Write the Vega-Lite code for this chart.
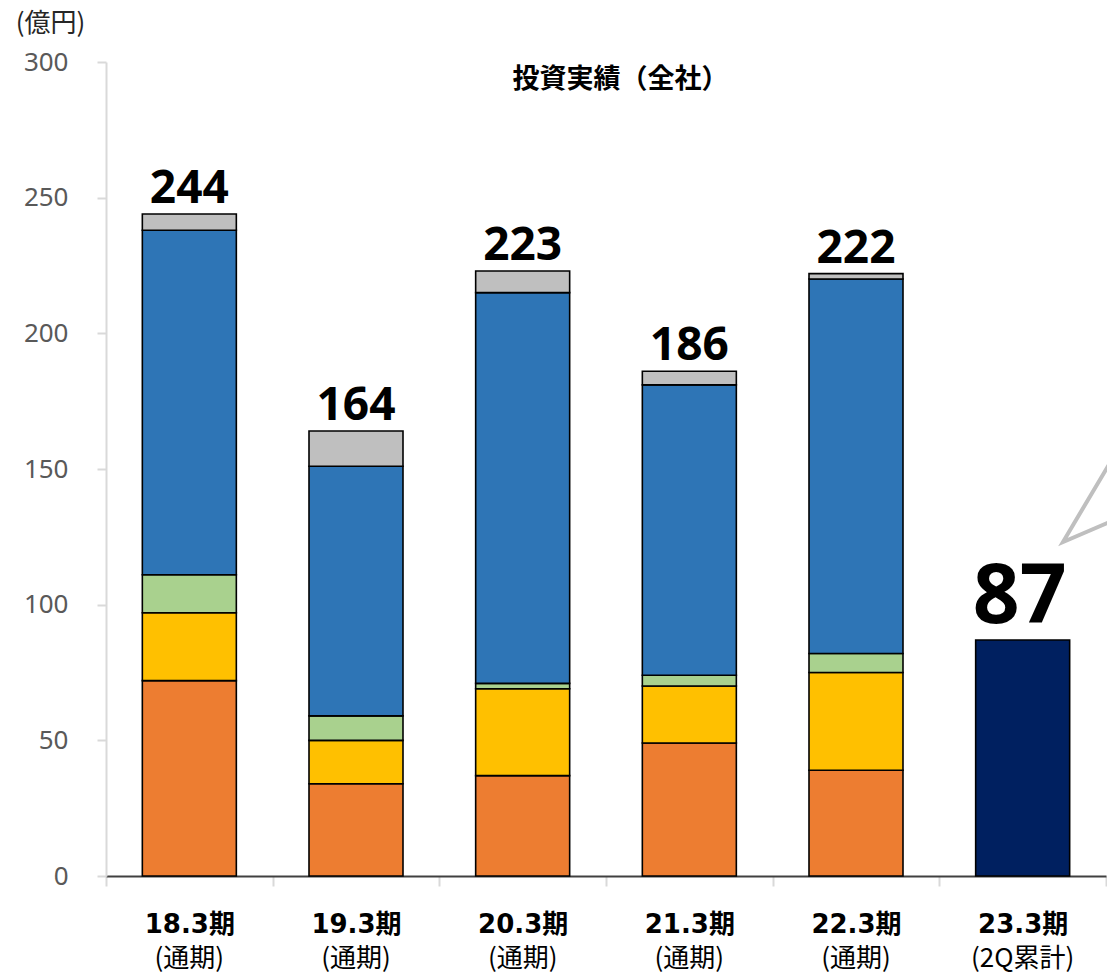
{
  "$schema": "https://vega.github.io/schema/vega-lite/v6.json",
  "width": 1000,
  "height": 814,
  "autosize": {"type": "none"},
  "padding": {"left": 106, "top": 62, "right": 1, "bottom": 101},
  "background": "white",
  "config": {"view": {"stroke": null}},
  "datasets": {
    "segments": [
      {"period": "18.3期", "segment": "A", "order": 1, "value": 72},
      {"period": "18.3期", "segment": "B", "order": 2, "value": 25},
      {"period": "18.3期", "segment": "C", "order": 3, "value": 14},
      {"period": "18.3期", "segment": "D", "order": 4, "value": 127},
      {"period": "18.3期", "segment": "E", "order": 5, "value": 6},
      {"period": "19.3期", "segment": "A", "order": 1, "value": 34},
      {"period": "19.3期", "segment": "B", "order": 2, "value": 16},
      {"period": "19.3期", "segment": "C", "order": 3, "value": 9},
      {"period": "19.3期", "segment": "D", "order": 4, "value": 92},
      {"period": "19.3期", "segment": "E", "order": 5, "value": 13},
      {"period": "20.3期", "segment": "A", "order": 1, "value": 37},
      {"period": "20.3期", "segment": "B", "order": 2, "value": 32},
      {"period": "20.3期", "segment": "C", "order": 3, "value": 2},
      {"period": "20.3期", "segment": "D", "order": 4, "value": 144},
      {"period": "20.3期", "segment": "E", "order": 5, "value": 8},
      {"period": "21.3期", "segment": "A", "order": 1, "value": 49},
      {"period": "21.3期", "segment": "B", "order": 2, "value": 21},
      {"period": "21.3期", "segment": "C", "order": 3, "value": 4},
      {"period": "21.3期", "segment": "D", "order": 4, "value": 107},
      {"period": "21.3期", "segment": "E", "order": 5, "value": 5},
      {"period": "22.3期", "segment": "A", "order": 1, "value": 39},
      {"period": "22.3期", "segment": "B", "order": 2, "value": 36},
      {"period": "22.3期", "segment": "C", "order": 3, "value": 7},
      {"period": "22.3期", "segment": "D", "order": 4, "value": 138},
      {"period": "22.3期", "segment": "E", "order": 5, "value": 2},
      {"period": "23.3期", "segment": "F", "order": 1, "value": 87}
    ],
    "totals": [
      {"period": "18.3期", "sub": "(通期)", "total": 244},
      {"period": "19.3期", "sub": "(通期)", "total": 164},
      {"period": "20.3期", "sub": "(通期)", "total": 223},
      {"period": "21.3期", "sub": "(通期)", "total": 186},
      {"period": "22.3期", "sub": "(通期)", "total": 222},
      {"period": "23.3期", "sub": "(2Q累計)", "total": 87}
    ],
    "callout": [
      {"pos": 6.05, "value": 155.0, "order": 1},
      {"pos": 5.742, "value": 123.1, "order": 2},
      {"pos": 6.05, "value": 131.2, "order": 3}
    ]
  },
  "layer": [
    {
      "encoding": {
        "x": {
          "field": "period",
          "type": "nominal",
          "sort": ["18.3期", "19.3期", "20.3期", "21.3期", "22.3期", "23.3期"],
          "scale": {"paddingInner": 0, "paddingOuter": 0},
          "axis": {
            "title": null,
            "labelAngle": 0,
            "labelFont": "DejaVu Sans, Noto Sans CJK JP",
            "labelFontWeight": "bold",
            "labelFontSize": 26,
            "labelColor": "#000000",
            "labelPadding": 46,
            "labelBaseline": "alphabetic",
            "tickBand": "extent",
            "tickSize": 10,
            "tickColor": "#d9d9d9",
            "tickWidth": 2,
            "domainColor": "#404040",
            "domainWidth": 2,
            "grid": false
          }
        }
      },
      "layer": [
        {
          "data": {"name": "segments"},
          "mark": {"type": "bar", "stroke": "#000000", "strokeWidth": 1.6, "width": {"band": 0.564}},
          "encoding": {
            "y": {
              "field": "value",
              "type": "quantitative",
              "stack": "zero",
              "scale": {"domain": [0, 300], "nice": false},
              "axis": {
                "title": "(億円)",
                "titleAngle": 0,
                "titleX": -56,
                "titleY": -39,
                "titleAlign": "center",
                "titleBaseline": "middle",
                "titleFont": "Noto Sans CJK JP",
                "titleFontSize": 26,
                "titleFontWeight": "normal",
                "titleColor": "#262626",
                "values": [0, 50, 100, 150, 200, 250, 300],
                "labelFont": "Noto Sans",
                "labelFontSize": 26,
                "labelColor": "#595959",
                "labelPadding": 29,
                "tickSize": 9,
                "tickColor": "#d9d9d9",
                "tickWidth": 2,
                "domainColor": "#d9d9d9",
                "domainWidth": 2,
                "grid": false
              }
            },
            "color": {
              "field": "segment",
              "type": "nominal",
              "scale": {
                "domain": ["A", "B", "C", "D", "E", "F"],
                "range": ["#ED7D31", "#FFC000", "#A9D18E", "#2E75B6", "#BFBFBF", "#002060"]
              },
              "legend": null
            },
            "order": {"field": "order", "type": "quantitative"}
          }
        },
        {
          "data": {"name": "totals"},
          "transform": [{"filter": "datum.period !== '23.3期'"}],
          "mark": {"type": "text", "font": "Noto Sans", "fontWeight": "bold", "fontSize": 46, "color": "#000000", "baseline": "alphabetic", "dy": -11},
          "encoding": {
            "y": {"field": "total", "type": "quantitative"},
            "text": {"field": "total", "type": "quantitative"}
          }
        },
        {
          "data": {"name": "totals"},
          "transform": [{"filter": "datum.period === '23.3期'"}],
          "mark": {"type": "text", "font": "Noto Sans", "fontWeight": "bold", "fontSize": 82, "color": "#000000", "baseline": "alphabetic", "dy": -17, "dx": -3},
          "encoding": {
            "y": {"field": "total", "type": "quantitative"},
            "text": {"field": "total", "type": "quantitative"}
          }
        },
        {
          "data": {"name": "totals"},
          "mark": {"type": "text", "font": "Noto Sans CJK JP", "fontSize": 26, "color": "#000000", "baseline": "alphabetic", "dy": 91},
          "encoding": {
            "y": {"datum": 0},
            "text": {"field": "sub", "type": "nominal"}
          }
        }
      ]
    },
    {
      "data": {"name": "callout"},
      "mark": {"type": "line", "color": "#BFBFBF", "strokeWidth": 4, "strokeJoin": "miter"},
      "encoding": {
        "x": {
          "field": "pos",
          "type": "quantitative",
          "scale": {"domain": [0, 6], "nice": false, "zero": false},
          "axis": {
            "orient": "top",
            "title": "投資実績（全社）",
            "titleFont": "Noto Sans CJK JP",
            "titleFontSize": 27,
            "titleFontWeight": "bold",
            "titleColor": "#000000",
            "titleX": 514,
            "titleY": 17,
            "titleAlign": "center",
            "titleBaseline": "middle",
            "labels": false,
            "ticks": false,
            "domain": false,
            "grid": false
          }
        },
        "y": {"field": "value", "type": "quantitative"},
        "order": {"field": "order", "type": "quantitative"}
      }
    }
  ],
  "resolve": {"scale": {"x": "independent"}}
}
